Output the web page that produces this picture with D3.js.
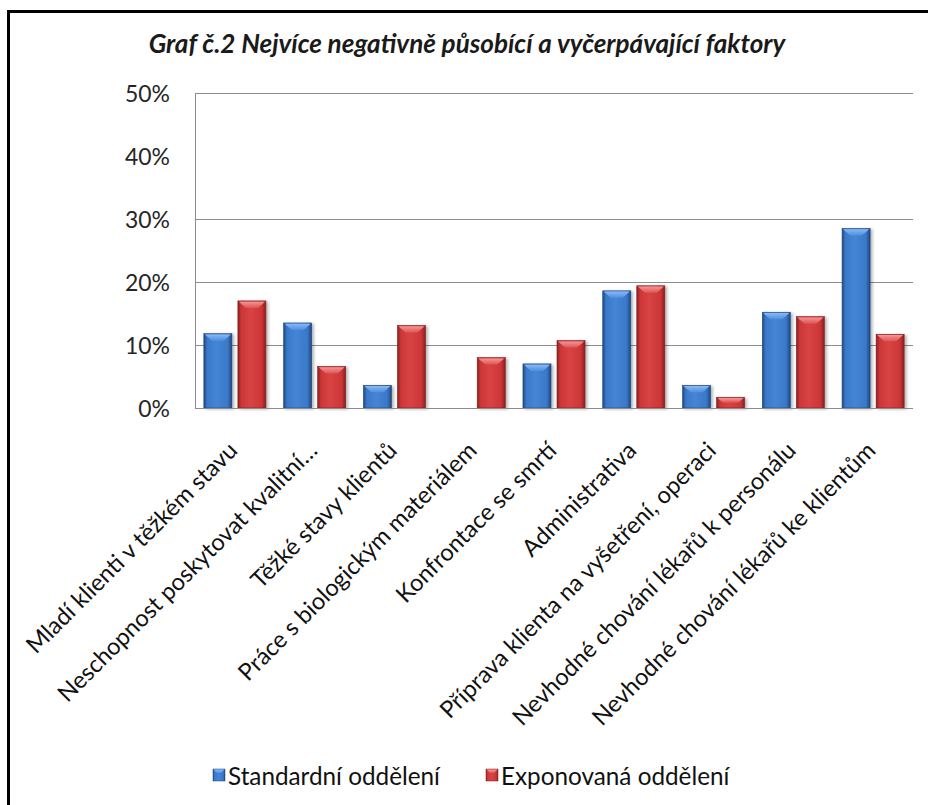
<!DOCTYPE html>
<html>
<head>
<meta charset="utf-8">
<script src="https://cdn.jsdelivr.net/npm/d3@7"></script>
<style>
  html, body { margin: 0; padding: 0; background: #fff; }
  svg { display: block; }
  text { font-family: Lato, "Open Sans", "DejaVu Sans", sans-serif; }
</style>
</head>
<body>
<svg id="chart" width="928" height="805"></svg>
<script>
const title = "Graf č.2 Nejvíce negativně působící a vyčerpávající faktory";
const categories = [
  "Mladí klienti v těžkém stavu",
  "Neschopnost poskytovat kvalitní…",
  "Těžké stavy klientů",
  "Práce s biologickým materiálem",
  "Konfrontace se smrtí",
  "Administrativa",
  "Příprava klienta na vyšetření, operaci",
  "Nevhodné chování lékařů k personálu",
  "Nevhodné chování lékařů ke klientům"
];
const seriesNames = ["Standardní oddělení", "Exponovaná oddělení"];
const standardValues = [11.8, 13.5, 3.6, 0, 7.0, 18.6, 3.6, 15.2, 28.5];
const exposedValues  = [17.0, 6.6, 13.1, 8.0, 10.7, 19.4, 1.7, 14.5, 11.7];
const yTickValues = [0, 10, 20, 30, 40, 50];
const gridValues = [10, 20, 30, 50];

const svg = d3.select("#chart");
const W = 928, H = 805;
svg.append("rect").attr("width", W).attr("height", H).attr("fill", "#fff");

// frame
svg.append("line").attr("x1", 7).attr("x2", W).attr("y1", 11.5).attr("y2", 11.5)
  .attr("stroke", "#000").attr("stroke-width", 3);
svg.append("line").attr("x1", 8.5).attr("x2", 8.5).attr("y1", 10).attr("y2", H)
  .attr("stroke", "#000").attr("stroke-width", 3);

const plot = { left: 195, right: 913, top: 93, bottom: 408 };

const x = d3.scaleBand().domain(categories).range([plot.left, plot.right]);
const xs = d3.scaleBand().domain([0, 1]).range([0, x.bandwidth()])
  .paddingInner(0.176).paddingOuter(0.26);
const y = d3.scaleLinear().domain([0, 50]).range([plot.bottom, plot.top]);

// defs: gradients
const defs = svg.append("defs");
const palettes = [
  { dark: "#1d4782", mid: "#3a78c8", light: "#4585d6", bevel1: "#8cbcf5", bevel2: "#4f8fe0", stroke: "#23467a", legend: "#2f66b0" },
  { dark: "#8a1f1f", mid: "#cc3636", light: "#d84343", bevel1: "#f79a9a", bevel2: "#df5555", stroke: "#7e2020", legend: "#c43030" }
];
palettes.forEach((p, i) => {
  const g = defs.append("linearGradient").attr("id", "bar" + i)
    .attr("x1", "0").attr("x2", "1").attr("y1", "0").attr("y2", "0");
  g.append("stop").attr("offset", "0").attr("stop-color", p.dark);
  g.append("stop").attr("offset", "0.12").attr("stop-color", p.mid);
  g.append("stop").attr("offset", "0.45").attr("stop-color", p.light);
  g.append("stop").attr("offset", "0.85").attr("stop-color", p.mid);
  g.append("stop").attr("offset", "1").attr("stop-color", p.dark);
  const b = defs.append("linearGradient").attr("id", "bev" + i)
    .attr("x1", "0").attr("x2", "0").attr("y1", "0").attr("y2", "1");
  b.append("stop").attr("offset", "0").attr("stop-color", p.bevel1);
  b.append("stop").attr("offset", "1").attr("stop-color", p.bevel2);
});
const f = defs.append("filter").attr("id", "shadow").attr("x", "-20%").attr("y", "-10%")
  .attr("width", "150%").attr("height", "130%");
f.append("feDropShadow").attr("dx", 2).attr("dy", 1).attr("stdDeviation", 1.5)
  .attr("flood-color", "#000").attr("flood-opacity", 0.3);

// grid lines
svg.append("g").selectAll("line").data(gridValues).join("line")
  .attr("x1", plot.left).attr("x2", plot.right)
  .attr("y1", d => Math.round(y(d)) + 0.5).attr("y2", d => Math.round(y(d)) + 0.5)
  .attr("stroke", "#8c8c8c").attr("stroke-width", 1);

// y axis line
svg.append("line").attr("x1", plot.left + 0.5).attr("x2", plot.left + 0.5)
  .attr("y1", y(50)).attr("y2", y(0)).attr("stroke", "#8c8c8c");

// fit helper
function fitSize(textSel, target, base) {
  const w = textSel.node().getComputedTextLength();
  return base * target / w;
}

// y tick labels
const yt = svg.append("g").selectAll("text").data(yTickValues).join("text")
  .attr("x", 170).attr("y", d => y(d))
  .attr("text-anchor", "end").attr("dominant-baseline", "central")
  .attr("fill", "#262626").attr("font-size", 20)
  .text(d => d + "%");
const ySize = fitSize(d3.select(yt.nodes()[5]), 45, 20);
yt.attr("font-size", ySize);

// bars
const data = categories.map((c, i) => ({ c, v: [standardValues[i], exposedValues[i]] }));
const groups = svg.append("g").selectAll("g").data(data).join("g")
  .attr("transform", d => `translate(${x(d.c)},0)`);
groups.each(function(d) {
  const g = d3.select(this);
  d.v.forEach((v, s) => {
    if (v <= 0) return;
    const bx = xs(s), bw = xs.bandwidth();
    const by = y(v), bh = y(0) - y(v);
    const bar = g.append("g").attr("filter", "url(#shadow)");
    bar.append("rect").attr("x", bx).attr("y", by).attr("width", bw).attr("height", bh)
      .attr("fill", `url(#bar${s})`).attr("stroke", palettes[s].stroke).attr("stroke-width", 0.6);
    const bev = Math.min(7, bh / 2);
    bar.append("polygon")
      .attr("points", [[bx + 1, by + 0.8], [bx + bw - 1, by + 0.8], [bx + bw - 1 - bev, by + bev], [bx + 1 + bev, by + bev]].map(p => p.join(",")).join(" "))
      .attr("fill", `url(#bev${s})`).attr("opacity", 0.95);
  });
});

// base axis line
svg.append("line").attr("x1", plot.left).attr("x2", plot.right)
  .attr("y1", Math.round(y(0)) + 0.5).attr("y2", Math.round(y(0)) + 0.5)
  .attr("stroke", "#8c8c8c").attr("stroke-width", 1.2);

// x labels
const xl = svg.append("g").selectAll("text").data(categories).join("text")
  .attr("text-anchor", "end").attr("fill", "#111").attr("font-size", 20)
  .attr("transform", d => `translate(${x(d) + x.bandwidth() / 2 + 4},${452}) rotate(-45)`)
  .text(d => d);
const xSize = fitSize(d3.select(xl.nodes()[0]), 287, 20);
xl.attr("font-size", xSize);

// title
const tt = svg.append("text").attr("x", 467).attr("y", 53)
  .attr("text-anchor", "middle").attr("font-style", "italic").attr("font-weight", 700)
  .attr("fill", "#1a1a1a").attr("font-size", 20).text(title);
tt.attr("font-size", fitSize(tt, 637, 20));

// legend
const legendX = [213, 486];
const lg = svg.append("g").selectAll("g").data(seriesNames).join("g")
  .attr("transform", (d, i) => `translate(${legendX[i]},775)`);
lg.append("rect").attr("x", 0).attr("y", -6).attr("width", 12).attr("height", 12)
  .attr("fill", (d, i) => `url(#bar${i})`).attr("stroke", (d, i) => palettes[i].stroke).attr("stroke-width", 0.5);
lg.append("polygon").attr("points", "0.5,-5.5 11.5,-5.5 8,-2 4,-2")
  .attr("fill", (d, i) => `url(#bev${i})`);
const lt = lg.append("text").attr("x", 15).attr("y", 0).attr("dominant-baseline", "central")
  .attr("fill", "#111").attr("font-size", 20).text(d => d);
const lSize = fitSize(d3.select(lt.nodes()[0]), 212, 20);
lt.attr("font-size", lSize);
</script>
</body>
</html>
